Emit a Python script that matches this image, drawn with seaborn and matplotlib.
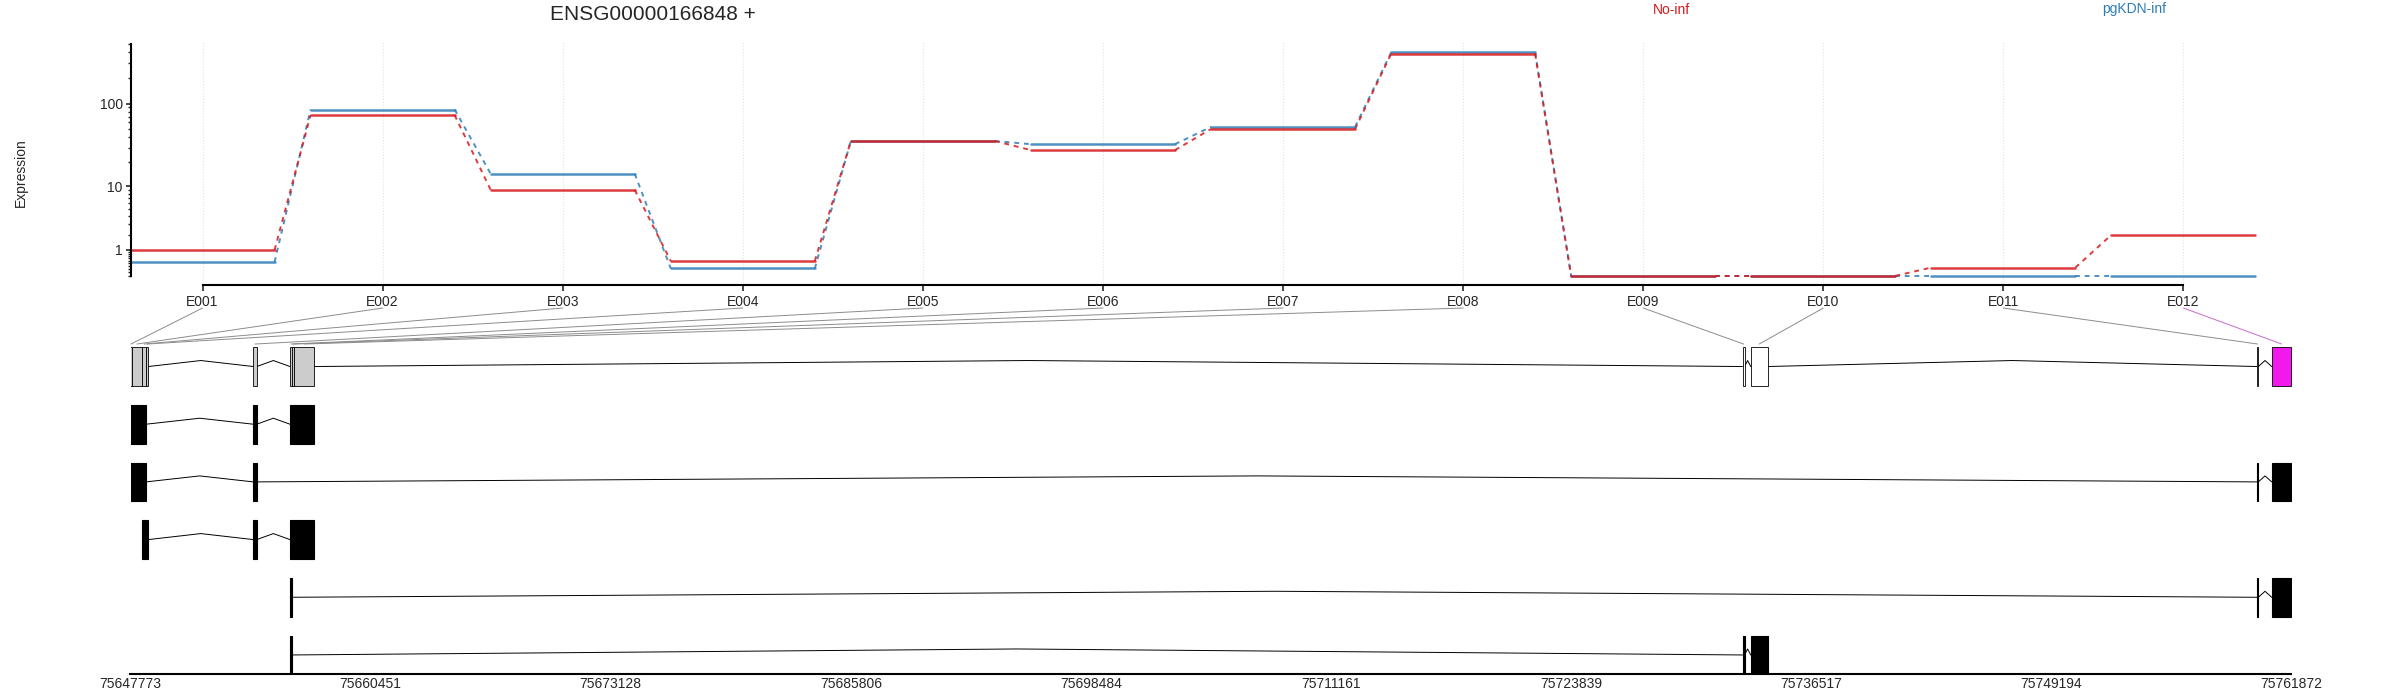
import numpy as np
import pandas as pd
import matplotlib
matplotlib.use('Agg')
import matplotlib.pyplot as plt
import matplotlib.transforms as mtransforms
from matplotlib.patches import Rectangle, ConnectionPatch
from matplotlib.ticker import FixedLocator, NullFormatter
import seaborn as sns

# exon bins and fitted expression per condition
exons = ['E001', 'E002', 'E003', 'E004', 'E005', 'E006',
         'E007', 'E008', 'E009', 'E010', 'E011', 'E012']
no_inf = [1.0, 73, 9.0, 0.49, 36, 28, 50, 380, 0.0, 0.0, 0.25, 2.0]
pgkdn_inf = [0.45, 85, 14.4, 0.22, 36, 33, 53, 395, 0.0, 0.0, 0.0, 0.0]

# genomic position of each bin
bin_start = [75647773, 75647826, 75648396, 75648591, 75654257, 75656195,
             75656300, 75656406, 75732887, 75733320, 75760042, 75760828]
bin_end = [75647826, 75648396, 75648591, 75648713, 75654436, 75656300,
           75656406, 75657446, 75732992, 75734217, 75760121, 75761872]
sig_bins = ['E012']
untested_bins = ['E009', 'E010']

# transcripts (exon start, end)
transcripts = [
    [(75647773, 75648591), (75654257, 75654436), (75656195, 75657446)],
    [(75647773, 75648591), (75654257, 75654436), (75760042, 75760121), (75760828, 75761872)],
    [(75648396, 75648713), (75654257, 75654436), (75656195, 75657446)],
    [(75656195, 75656300), (75760042, 75760121), (75760828, 75761872)],
    [(75656195, 75656300), (75732887, 75732992), (75733320, 75734217)],
]
genome_ticks = [75647773, 75660451, 75673128, 75685806, 75698484,
                75711161, 75723839, 75736517, 75749194, 75761872]

sns.set_style('white')
plt.rcParams['font.family'] = ['Liberation Sans', 'DejaVu Sans']

red = '#D7191C'
blue = '#2F7DB8'
palette = {'No-inf': red, 'pgKDN-inf': blue}

W, H = 2400, 700
fig = plt.figure(figsize=(24, 7), dpi=100)


def box(l, t, r, b):
    return [l / W, 1 - b / H, (r - l) / W, (b - t) / H]


ax2 = fig.add_axes(box(130.5, 297.3, 2291.5, 674))
ax1 = fig.add_axes(box(130.5, 42, 2291.5, 285))
ax2.set_facecolor('none')
ax1.set_facecolor('none')

pos = np.arange(1, len(exons) + 1)
seg_rows, con_rows = [], []
for cond, vals in [('pgKDN-inf', pgkdn_inf), ('No-inf', no_inf)]:
    for i, v in enumerate(vals):
        seg_rows.append(dict(cond=cond, seg=i, x=pos[i] - 0.4, y=v))
        seg_rows.append(dict(cond=cond, seg=i, x=pos[i] + 0.4, y=v))
    for i in range(len(vals) - 1):
        con_rows.append(dict(cond=cond, seg=i, x=pos[i] + 0.4, y=vals[i]))
        con_rows.append(dict(cond=cond, seg=i, x=pos[i + 1] - 0.4, y=vals[i + 1]))
seg = pd.DataFrame(seg_rows)
con = pd.DataFrame(con_rows)

hue_order = ['pgKDN-inf', 'No-inf']
sns.lineplot(data=con, x='x', y='y', hue='cond', units='seg', estimator=None,
             sort=False, palette=palette, hue_order=hue_order, legend=False,
             lw=1.4, alpha=0.85, linestyle=(0, (2.5, 2.5)), ax=ax1)
sns.lineplot(data=seg, x='x', y='y', hue='cond', units='seg', estimator=None,
             sort=False, palette=palette, hue_order=hue_order, legend=False,
             lw=1.8, alpha=0.85, ax=ax1)


def fwd(v):
    return np.log10(np.maximum(np.asarray(v) + 1, 1e-9))


def inv(t):
    return 10 ** np.asarray(t) - 1


ax1.set_yscale('function', functions=(fwd, inv))
ax1.set_xlim(0.6, 12.6)
ax1.set_ylim(-0.2166, 523.4)
ax1.vlines(pos, -0.2166, 523.4, colors='#E3E3E3', linestyles=':', lw=0.8, zorder=0)

major = [1, 10, 100]
minor = ([0] + [k / 10 for k in range(1, 10)] + list(range(2, 10))
         + list(range(20, 100, 10)) + [200, 300, 400, 500])
ax1.yaxis.set_major_locator(FixedLocator(major))
ax1.yaxis.set_minor_locator(FixedLocator(minor))
ax1.set_yticklabels(['1', '10', '100'])
ax1.yaxis.set_minor_formatter(NullFormatter())
ax1.set_xticks(pos)
ax1.set_xticklabels(exons)
ax1.set_xlabel('')
ax1.set_ylabel('')
for s in ['top', 'right']:
    ax1.spines[s].set_visible(False)
ax1.spines['left'].set_bounds(0, 500)
ax1.spines['bottom'].set_bounds(1, 12)
ax1.spines['left'].set_linewidth(1.5)
ax1.spines['bottom'].set_linewidth(1.5)
ax1.spines['left'].set_color('black')
ax1.spines['bottom'].set_color('black')
ax1.tick_params(axis='x', length=4.3, width=1.2, labelsize=10, pad=3, bottom=True)
ax1.tick_params(axis='y', which='major', length=3.6, width=1.2, labelsize=10, pad=2, left=True)
ax1.tick_params(axis='y', which='minor', length=2.2, width=1.0, left=True)

# gene model
ax2.set_xlim(genome_ticks[0], genome_ticks[-1])
ax2.set_ylim(-5.33, 1.2)
half = 0.335
peak = 0.104


def draw_introns(parts, yc):
    parts = sorted(parts)
    merged = [list(parts[0])]
    for s, e in parts[1:]:
        if s <= merged[-1][1]:
            merged[-1][1] = max(e, merged[-1][1])
        else:
            merged.append([s, e])
    for a, b in zip(merged[:-1], merged[1:]):
        ax2.plot([a[1], (a[1] + b[0]) / 2, b[0]], [yc, yc + peak, yc],
                 color='black', lw=0.7, zorder=1)


for name, s, e in zip(exons, bin_start, bin_end):
    fc = '#CCCCCC'
    if name in sig_bins:
        fc = '#F219ED'
    elif name in untested_bins:
        fc = 'white'
    ax2.add_patch(Rectangle((s, -half), e - s, 2 * half, fc=fc, ec='black', lw=0.6, zorder=2))
draw_introns(list(zip(bin_start, bin_end)), 0)

for r, tr in enumerate(transcripts, start=1):
    for s, e in tr:
        ax2.add_patch(Rectangle((s, -r - half), e - s, 2 * half, fc='black', ec='black', lw=0.8, zorder=2))
    draw_introns(tr, -r)

trans = mtransforms.blended_transform_factory(ax1.transData, ax2.transData)
for i, (name, s, e) in enumerate(zip(exons, bin_start, bin_end)):
    col = '#C86BC8' if name in sig_bins else '#8C8C8C'
    cp = ConnectionPatch(xyA=(pos[i], 1.014), coordsA=trans,
                         xyB=((s + e) / 2, 0.39), coordsB=ax2.transData,
                         color=col, lw=0.7)
    fig.add_artist(cp)

for s in ['top', 'right', 'left']:
    ax2.spines[s].set_visible(False)
ax2.spines['bottom'].set_linewidth(1.5)
ax2.spines['bottom'].set_color('black')
ax2.set_xticks(genome_ticks)
ax2.set_xticklabels([str(g) for g in genome_ticks])
ax2.set_yticks([])
ax2.tick_params(axis='x', length=0, labelsize=10, pad=2)

fig.text(653 / W, 1 - 15 / H, 'ENSG00000166848 +', ha='center', va='center', fontsize=15)
fig.text(1672 / W, 1 - 9.5 / H, 'No-inf', ha='center', va='center', fontsize=10, color=red)
fig.text(2134 / W, 1 - 9.5 / H, 'pgKDN-inf', ha='center', va='center', fontsize=10, color=blue)
fig.text(21 / W, 1 - 173 / H, 'Expression', ha='center', va='center', rotation=90, fontsize=10)

fig.savefig('out.png', dpi=100)
